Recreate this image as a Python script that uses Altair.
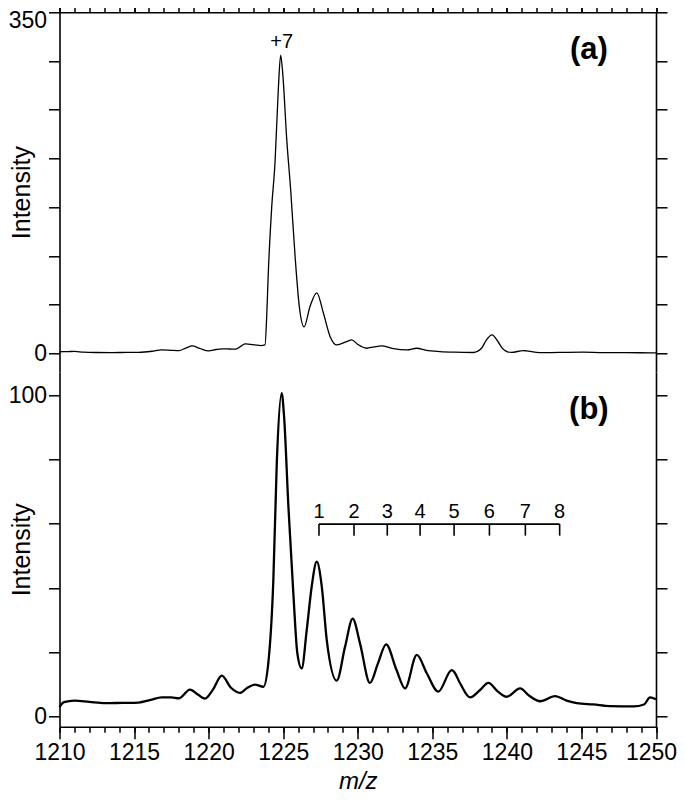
import altair as alt
import pandas as pd

# ---------------- data ----------------
top_mz = [1210.0, 1210.6, 1211.0, 1211.6, 1212.4, 1213.5, 1214.5, 1215.3, 1216.2, 1216.85,
          1217.5, 1218.0, 1218.5, 1218.9, 1219.4, 1220.0, 1220.5, 1220.9, 1221.4, 1221.8,
          1222.2, 1222.45, 1222.8, 1223.1, 1223.5, 1223.78, 1223.9, 1224.0, 1224.23, 1224.45,
          1224.67, 1224.83, 1224.97, 1225.24, 1225.5, 1225.8, 1226.08, 1226.4, 1226.8, 1227.25,
          1227.7, 1228.15, 1228.6, 1229.26, 1229.6, 1230.0, 1230.6, 1231.1, 1231.6, 1232.3,
          1233.3, 1233.95, 1234.6, 1235.5, 1236.5, 1237.75, 1238.3, 1238.6, 1239.0, 1239.4,
          1239.7, 1240.0, 1240.3, 1241.1, 1241.3, 1242.2, 1243.5, 1245.1, 1246.5, 1248.0,
          1249.8, 1250.0]
top_int = [1.5, 1.7, 1.8, 1.0, 0.7, 0.6, 0.8, 0.9, 2.0, 3.4,
           3.0, 2.7, 5.5, 7.5, 5.0, 2.4, 3.8, 4.5, 4.3, 4.1,
           7.5, 9.6, 9.0, 8.6, 7.8, 8.5, 40, 82, 150, 195,
           270, 306, 287, 219, 168, 99, 48, 27, 48, 62,
           41, 17, 8.5, 12, 13.7, 9.0, 5.1, 6.5, 7.5, 5.0,
           3.4, 5.1, 3.0, 1.7, 1.0, 0.7, 5, 13, 18.8, 12,
           5, 1.7, 0.8, 2.7, 2.4, 0.5, 0.8, 1.0, 0.6, 0.6,
           0.3, 0.3]

bot_mz = [1210.0, 1210.3, 1211.0, 1212.0, 1213.05, 1214.2, 1215.3, 1216.1, 1216.85, 1217.5,
          1218.0, 1218.75, 1219.3, 1219.76, 1220.3, 1220.88, 1221.5, 1222.1, 1222.6, 1223.1,
          1223.67, 1224.0, 1224.34, 1224.57, 1224.9, 1225.06, 1225.35, 1225.68, 1225.95, 1226.24,
          1226.58, 1226.91, 1227.25, 1227.59, 1227.92, 1228.59, 1229.15, 1229.66, 1230.15, 1230.82,
          1231.35, 1231.9, 1232.6, 1233.17, 1233.96, 1234.63, 1235.4, 1236.3, 1236.45, 1236.86,
          1237.53, 1238.2, 1238.76, 1239.4, 1239.99, 1240.89, 1241.5, 1242.23, 1243.23, 1244.0,
          1244.69, 1245.8, 1246.9, 1248.5, 1249.2, 1249.6, 1250.0]
bot_int = [3.0, 4.5, 5.0, 4.6, 4.2, 4.3, 4.4, 5.2, 6.0, 6.0,
           5.7, 8.4, 6.8, 5.6, 8.5, 12.8, 9.0, 7.4, 9.0, 10.0,
           9.3, 16.6, 42.5, 78.8, 100.6, 93.3, 65.3, 38.4, 19.7, 15.0,
           27, 40.4, 48.2, 40.4, 23.9, 11.2, 21.8, 30.5, 22.8, 10.5,
           16.5, 22.5, 14.5, 8.8, 19.2, 13.5, 7.8, 14.5, 14.0, 10.4,
           6.0, 8.3, 10.5, 7.8, 6.2, 8.8, 6.5, 4.8, 6.4, 5.0,
           4.2, 3.8, 3.3, 3.2, 3.8, 6.0, 5.4]

# adduct ladder in panel (b)
ladder_mz = [1227.40, 1229.75, 1231.98, 1234.18, 1236.46, 1238.83, 1241.24, 1243.54]
ladder_lab = ["1", "2", "3", "4", "5", "6", "7", "8"]
ladder_level = 59.9
ladder_tick_end = 56.3
ladder_text_level = 61.8

x_major_ticks = [1210, 1215, 1220, 1225, 1230, 1235, 1240, 1245, 1250]
x_minor_ticks = list(range(1210, 1251))
top_y_ticks = [0, 50, 100, 150, 200, 250, 300, 350]
bot_y_ticks = [0, 20, 40, 60, 80, 100]

# ---------------- layout (pixels) ----------------
W = 596.5
H = 714.4
SPLIT = 359.7
FONT = "Liberation Sans"
LBL = 23

top_df = pd.DataFrame({"mz": top_mz, "v": top_int})
bot_df = pd.DataFrame({"mz": bot_mz, "v": bot_int})

xscale = alt.Scale(domain=[1210, 1250], nice=False, zero=False)
ys_top = alt.Scale(domain=[-19.3, 350], range=[SPLIT, 0], nice=False, zero=False)
ys_bot = alt.Scale(domain=[-3.11, 107.2], range=[H, SPLIT], nice=False, zero=False)

axis_common = dict(domainColor="black", tickColor="black", domainWidth=1.6, tickWidth=1.5,
                   grid=False, labelFont=FONT, labelColor="black", labelFontSize=LBL,
                   labelFlush=False, labelOverlap=False,
                   titleFont=FONT, titleColor="black", titleFontWeight="normal")


def x_major(orient, labels, title=None):
    kw = dict(axis_common)
    kw.update(orient=orient, values=x_major_ticks, tickSize=12, labels=labels, format="d",
              labelPadding=3,
              labelOffset={"condition": {"test": "datum.value == 1250", "value": -5}, "value": 0})
    if title:
        kw.update(title=title, titleFontSize=24, titleFontStyle="italic", titlePadding=5)
    else:
        kw.update(title=None)
    return alt.Axis(**kw)


def x_minor(orient):
    kw = dict(axis_common)
    kw.update(orient=orient, values=x_minor_ticks, tickSize=5.5, labels=False, domain=False, title=None)
    return alt.Axis(**kw)


def y_axis(orient, values, label_vals, labels, title=None, shift_top=None):
    kw = dict(axis_common)
    expr = " || ".join(f"datum.value == {v}" for v in label_vals) or "false"
    kw.update(orient=orient, values=values, tickSize=11, labels=labels, labelPadding=2,
              labelExpr=f"({expr}) ? datum.label : ''")
    if shift_top is not None:
        kw.update(labelOffset={"condition": {"test": f"datum.value == {shift_top}", "value": 8},
                               "value": 0})
    if title:
        kw.update(title=title, titleFontSize=25, titleX=-38, titleBaseline="middle")
    else:
        kw.update(title=None)
    return alt.Axis(**kw)


top_line = alt.Chart(top_df).mark_line(color="black", strokeWidth=1.3, interpolate="monotone").encode(
    x=alt.X("mz:Q", scale=xscale, axis=x_major("top", False)),
    y=alt.Y("v:Q", scale=ys_top, axis=y_axis("left", top_y_ticks, [0, 350], True, "Intensity", 350)),
)
top_line2 = alt.Chart(top_df).mark_line(opacity=0).encode(
    x=alt.X("mz:Q", scale=xscale, axis=x_minor("top")),
    y=alt.Y("v:Q", scale=ys_top, axis=y_axis("right", top_y_ticks, [], False)),
)
bot_line = alt.Chart(bot_df).mark_line(color="black", strokeWidth=2.3, interpolate="monotone").encode(
    x=alt.X("mz:Q", scale=xscale, axis=x_major("bottom", True, "m/z")),
    y=alt.Y("v:Q", scale=ys_bot, axis=y_axis("left", bot_y_ticks, [0, 100], True, "Intensity")),
)
bot_line2 = alt.Chart(bot_df).mark_line(opacity=0).encode(
    x=alt.X("mz:Q", scale=xscale, axis=x_minor("bottom")),
    y=alt.Y("v:Q", scale=ys_bot, axis=y_axis("right", bot_y_ticks, [], False)),
)

# annotations
plus7_df = pd.DataFrame({"mz": [1224.9], "v": [319], "t": ["+7"]})
a_df = pd.DataFrame({"mz": [1245.5], "v": [311], "t": ["(a)"]})
b_df = pd.DataFrame({"mz": [1245.5], "v": [95.4], "t": ["(b)"]})

plus7 = alt.Chart(plus7_df).mark_text(font=FONT, fontSize=20, color="black").encode(
    x=alt.X("mz:Q", scale=xscale, axis=None),
    y=alt.Y("v:Q", scale=ys_top, axis=None), text="t:N")
label_a = alt.Chart(a_df).mark_text(font=FONT, fontSize=31, fontWeight="bold", color="black").encode(
    x=alt.X("mz:Q", scale=xscale, axis=None),
    y=alt.Y("v:Q", scale=ys_top, axis=None), text="t:N")
label_b = alt.Chart(b_df).mark_text(font=FONT, fontSize=31, fontWeight="bold", color="black").encode(
    x=alt.X("mz:Q", scale=xscale, axis=None),
    y=alt.Y("v:Q", scale=ys_bot, axis=None), text="t:N")

lad_df = pd.DataFrame({"mz": ladder_mz, "t": ladder_lab, "lev": ladder_level,
                       "end": ladder_tick_end, "tl": ladder_text_level})
lad_h = pd.DataFrame({"a": [ladder_mz[0]], "b": [ladder_mz[-1]], "lev": [ladder_level]})
ladder_hline = alt.Chart(lad_h).mark_rule(color="black", strokeWidth=1.6).encode(
    x=alt.X("a:Q", scale=xscale, axis=None), x2="b:Q",
    y=alt.Y("lev:Q", scale=ys_bot, axis=None))
ladder_ticks = alt.Chart(lad_df).mark_rule(color="black", strokeWidth=1.6).encode(
    x=alt.X("mz:Q", scale=xscale, axis=None),
    y=alt.Y("lev:Q", scale=ys_bot, axis=None), y2="end:Q")
ladder_text = alt.Chart(lad_df).mark_text(font=FONT, fontSize=20, color="black", baseline="alphabetic").encode(
    x=alt.X("mz:Q", scale=xscale, axis=None),
    y=alt.Y("tl:Q", scale=ys_bot, axis=None), text="t:N")

chart = alt.layer(
    top_line, top_line2, bot_line, bot_line2,
    plus7, label_a, label_b, ladder_hline, ladder_ticks, ladder_text,
).resolve_scale(y="independent").resolve_axis(x="independent", y="independent").properties(
    width=W, height=H,
    autosize=alt.AutoSizeParams(type="none"),
    padding={"left": 51.5, "top": 4.3, "right": 21, "bottom": 70},
).configure_view(stroke=None)

chart.save("out.html", embed_options={"renderer": "svg", "actions": False})
